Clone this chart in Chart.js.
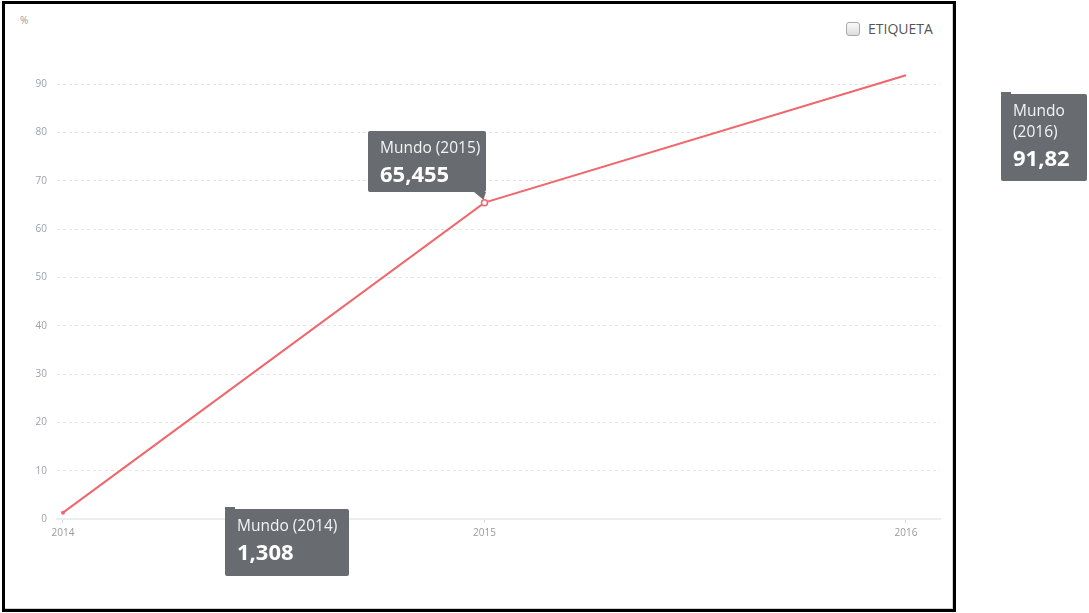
<!DOCTYPE html>
<html>
<head>
<meta charset="utf-8">
<script src="https://cdn.jsdelivr.net/npm/chart.js@4/dist/chart.umd.min.js"></script>
<style>
  html, body { margin: 0; padding: 0; background: #fff; }
  body { width: 1089px; height: 613px; position: relative; overflow: hidden; font-family: "Open Sans", sans-serif; }
  #frame {
    position: absolute; left: 2px; top: 1px; width: 954px; height: 611px;
    box-sizing: border-box; border: 3px solid #000;
    box-shadow: inset -1px -1px 0 #d0d0d0;
  }
  #unit { position: absolute; left: 20px; top: 13px; font-size: 10px; color: #999; }
  #legend { position: absolute; left: 846px; top: 21px; display: flex; align-items: center; }
  #legend .box {
    width: 12px; height: 12px; border: 1px solid #a9a9a9; border-radius: 3px;
    background: linear-gradient(#fafafa, #dcdcdc);
  }
  #legend span { margin-left: 8px; font-size: 14px; color: #555; line-height: 16px; }
  #wrap { position: absolute; left: 0; top: 0; width: 1089px; height: 613px; }
</style>
</head>
<body>
<div id="frame"></div>
<div id="unit">%</div>
<div id="legend"><div class="box"></div><span>ETIQUETA</span></div>
<div id="wrap"><canvas id="chart" width="1089" height="613"></canvas></div>

<script>
// datos
const seriesName = "Mundo";
const years = [2014, 2015, 2016];
const values = [1.308, 65.455, 91.82];
const yTicks = [0, 10, 20, 30, 40, 50, 60, 70, 80, 90];

const lineColor = "#f0666b";

// cajas de etiqueta (desplazamiento respecto al punto)
const notes = [
  { dx: 162, dy: -4, w: 124, h: 67, lines: [seriesName + " (2014)"], caret: false },
  { dx: -116, dy: -71.5, w: 118, h: 61, lines: [seriesName + " (2015)"], caret: true },
  { dx: 95, dy: 19, w: 86, h: 87, lines: [seriesName, "(2016)"], caret: false },
];

function fmt(v) {
  return String(v).replace(".", ",");
}

// dibuja las cajas de tooltip fijas
const notesPlugin = {
  id: "notes",
  afterDraw(chart) {
    const ctx = chart.ctx;
    const meta = chart.getDatasetMeta(0);
    ctx.save();
    meta.data.forEach((pt, i) => {
      const n = notes[i];
      const x = Math.round(pt.x + n.dx);
      const y = Math.round(pt.y + n.dy);
      ctx.fillStyle = "#686c70";
      ctx.beginPath();
      ctx.roundRect(x, y, n.w, n.h, 2);
      ctx.fill();
      if (n.caret) {
        ctx.beginPath();
        ctx.moveTo(x + n.w - 12, y + n.h);
        ctx.lineTo(x + n.w, y + n.h);
        ctx.lineTo(pt.x - 1, pt.y - 3);
        ctx.closePath();
        ctx.fill();
      } else {
        ctx.fillRect(x, y - 2, 10, 3);
      }
      ctx.fillStyle = "#f2f4f5";
      ctx.textBaseline = "middle";
      ctx.font = "15.5px 'Open Sans'";
      let ty = y + 18;
      n.lines.forEach((l) => {
        ctx.fillText(l, x + 12, ty);
        ty += 21;
      });
      ctx.font = "bold 22px 'Open Sans'";
      ctx.fillStyle = "#ffffff";
      ctx.fillText(fmt(values[i]), x + 12, ty + 6);
    });
    ctx.restore();
  },
};

const ctx = document.getElementById("chart").getContext("2d");
new Chart(ctx, {
  type: "line",
  data: {
    datasets: [
      {
        label: seriesName,
        data: years.map((y, i) => ({ x: y, y: values[i] })),
        borderColor: lineColor,
        borderWidth: 2,
        fill: false,
        tension: 0,
        clip: false,
        pointRadius: [2, 3, 2],
        pointBorderWidth: [0, 1.5, 0],
        pointBackgroundColor: [lineColor, "#ffffff", lineColor],
        pointBorderColor: lineColor,
      },
    ],
  },
  options: {
    responsive: false,
    animation: false,
    events: [],
    layout: { padding: { left: 0, top: 84, right: 149, bottom: 64 } },
    plugins: {
      legend: { display: false },
      tooltip: { enabled: false },
    },
    scales: {
      x: {
        type: "linear",
        min: 2014 - 6 / 421.5,
        max: 2016 + 34 / 421.5,
        afterBuildTicks: (scale) => {
          scale.ticks = years.map((v) => ({ value: v }));
        },
        afterFit: (scale) => {
          scale.height = 30;
        },
        ticks: {
          color: "#999",
          font: { family: "Open Sans", size: 10 },
          padding: 4,
          callback: (v) => String(v),
        },
        grid: {
          drawOnChartArea: false,
          drawTicks: true,
          tickLength: 4,
          tickColor: "#d8d8d8",
        },
        border: { display: true, color: "#e9eeee", width: 2 },
      },
      y: {
        min: 0,
        max: 90,
        afterBuildTicks: (scale) => {
          scale.ticks = yTicks.map((v) => ({ value: v }));
        },
        afterFit: (scale) => {
          scale.width = 57;
        },
        ticks: {
          color: "#9aa1ab",
          font: { family: "Open Sans", size: 10 },
          padding: 10,
        },
        grid: {
          drawTicks: false,
          color: (c) => (c.tick && c.tick.value === 0 ? "rgba(0,0,0,0)" : "#e4e4e4"),
          lineWidth: 1,
        },
        border: { display: false, dash: [3, 3] },
      },
    },
  },
  plugins: [notesPlugin],
});
</script>
</body>
</html>
